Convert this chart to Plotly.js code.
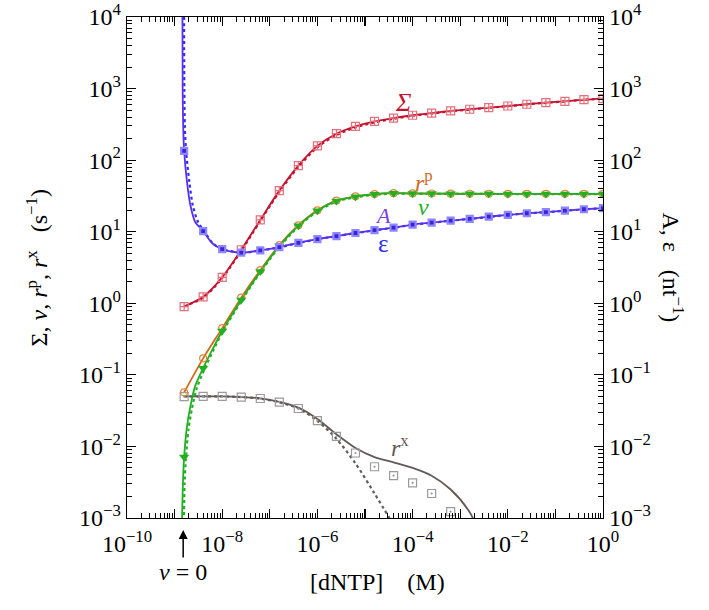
<!DOCTYPE html>
<html>
<head>
<meta charset="utf-8">
<script src="https://cdn.plot.ly/plotly-3.0.1.min.js"></script>
<style>
  html, body {margin: 0; padding: 0; background: #fff;}
  #plot {width: 709px; height: 610px;}
</style>
</head>
<body>
<div id="plot"></div>
<script>
// dNTP concentration (M) where the simulation points sit
var conc = [1.585e-9, 3.981e-9, 1e-8, 2.512e-8, 6.310e-8, 1.585e-7, 3.981e-7, 1e-6, 2.512e-6, 6.310e-6,
    1.585e-5, 3.981e-5, 1e-4, 2.512e-4, 6.310e-4, 1.585e-3, 3.981e-3, 1e-2, 2.512e-2, 6.310e-2, 0.1585, 0.3981, 1]

// simulation points
var sigmaPts = [0.9, 1.23, 2.3, 5.6, 14.6, 37.5, 84, 158, 234, 296, 348, 386, 424, 453, 487, 514, 541, 571, 604, 636, 664, 700, 725]
var rpPts = [0.057, 0.17, 0.45, 1.2, 2.9, 6.5, 12.3, 19.9, 27.2, 31.2, 33.6, 34.6, 34.3, 34.2, 34.0, 33.9, 33.9, 33.8, 33.8, 33.8, 33.8, 33.8, 33.8]
var vPts = [0.0071, 0.124, 0.41, 1.11, 2.77, 6.3, 12.1, 19.7, 26.9, 30.9, 33.4, 34.5, 34.2, 34.1, 33.9, 33.8, 33.8, 33.7, 33.7, 33.7, 33.7, 33.7, 33.7]
var aPts = [135, 10.2, 5.7, 5.1, 5.5, 6.1, 7.0, 7.9, 8.7, 9.6, 10.5, 11.4, 12.6, 13.4, 14.3, 15.1, 16.2, 17.2, 18.1, 18.8, 19.7, 20.6, 21.3]
var rxPts = [0.0498, 0.05, 0.05, 0.0489, 0.0467, 0.0416, 0.0339, 0.023, 0.0138, 0.0081, 0.0052, 0.0039, 0.0031, 0.0022, 0.00123]

// theory curves
var sigmaLine = [0.9, 1.23, 2.3, 5.6, 14.6, 37.5, 84, 158, 234, 296, 348, 386, 424, 453, 487, 514, 541, 571, 604, 636, 664, 700, 725]
var sigmaDot = [0.9, 1.2, 2.25, 5.4, 14.1, 36, 80, 151, 224, 287, 337, 378, 418, 447, 482, 510, 538, 568, 601, 633, 662, 698, 722]
var rpLine = [0.057, 0.17, 0.45, 1.2, 2.9, 6.5, 12.3, 19.9, 27.2, 31.2, 33.6, 34.6, 34.3, 34.2, 34.0, 33.9, 33.9, 33.8, 33.8, 33.8, 33.8, 33.8, 33.8]

var vLineX = [1.43e-9, 1.50e-9, 1.585e-9, 1.82e-9, 2.14e-9, 2.69e-9, 3.981e-9, 6.17e-9, 1e-8, 2.512e-8, 6.310e-8, 1.585e-7,
    3.981e-7, 1e-6, 2.512e-6, 6.310e-6, 1.585e-5, 3.981e-5, 1e-4, 2.512e-4, 6.310e-4, 1.585e-3, 3.981e-3, 1e-2, 2.512e-2, 6.310e-2, 0.1585, 0.3981, 1]
var vLine = [0.0009, 0.0032, 0.0071, 0.019, 0.036, 0.069, 0.124, 0.223, 0.41, 1.11, 2.77, 6.3,
    12.1, 19.7, 26.9, 30.9, 33.4, 34.5, 34.2, 34.1, 33.9, 33.8, 33.8, 33.7, 33.7, 33.7, 33.7, 33.7, 33.7]
var vDotX = [1.575e-9, 1.62e-9, 1.72e-9, 1.95e-9, 2.3e-9, 2.9e-9, 4.2e-9, 6.4e-9, 1e-8, 2.512e-8, 6.310e-8, 1.585e-7,
    3.981e-7, 1e-6, 2.512e-6, 6.310e-6, 1.585e-5, 3.981e-5, 1e-4, 2.512e-4, 6.310e-4, 1.585e-3, 3.981e-3, 1e-2, 2.512e-2, 6.310e-2, 0.1585, 0.3981, 1]
var vDot = [0.0009, 0.003, 0.0065, 0.017, 0.033, 0.064, 0.118, 0.215, 0.39, 1.07, 2.7, 6.1,
    11.8, 19.2, 26.3, 30.3, 32.8, 33.9, 33.9, 33.8, 33.7, 33.7, 33.7, 33.6, 33.6, 33.6, 33.6, 33.6, 33.6]

var aLineX = [1.462e-9, 1.476e-9, 1.515e-9, 1.585e-9, 1.82e-9, 2.138e-9, 2.692e-9, 3.981e-9, 6.166e-9, 1e-8, 2.512e-8, 6.310e-8,
    1.585e-7, 3.981e-7, 1e-6, 2.512e-6, 6.310e-6, 1.585e-5, 3.981e-5, 1e-4, 2.512e-4, 6.310e-4, 1.585e-3, 3.981e-3, 1e-2, 2.512e-2, 6.310e-2, 0.1585, 0.3981, 1]
var aLine = [10000, 1000, 300, 135, 50, 23.7, 13.8, 10.2, 6.9, 5.7, 5.1, 5.5,
    6.1, 7.0, 7.9, 8.7, 9.6, 10.5, 11.4, 12.6, 13.4, 14.3, 15.1, 16.2, 17.2, 18.1, 18.8, 19.7, 20.6, 21.3]
var epsX = [1.58e-9, 1.60e-9, 1.64e-9, 1.74e-9, 2.04e-9, 2.4e-9, 3.09e-9, 4.4e-9, 6.5e-9, 1e-8, 2.512e-8, 6.310e-8,
    1.585e-7, 3.981e-7, 1e-6, 2.512e-6, 6.310e-6, 1.585e-5, 3.981e-5, 1e-4, 2.512e-4, 6.310e-4, 1.585e-3, 3.981e-3, 1e-2, 2.512e-2, 6.310e-2, 0.1585, 0.3981, 1]
var epsDot = [10000, 1000, 300, 135, 50, 23.7, 13.8, 9.6, 6.8, 5.75, 5.1, 5.45,
    6.05, 6.95, 7.85, 8.65, 9.55, 10.45, 11.35, 12.5, 13.35, 14.25, 15.05, 16.1, 17.1, 18.0, 18.7, 19.6, 20.5, 21.2]

var rxLine = [0.05, 0.05, 0.05, 0.049, 0.047, 0.042, 0.0348, 0.0242, 0.0148, 0.0095, 0.0071, 0.0060, 0.0050, 0.0039, 0.0025, 0.0012, 0.0003]
var rxDot = [0.05, 0.05, 0.05, 0.0489, 0.0466, 0.0414, 0.0338, 0.0228, 0.0128, 0.0058, 0.0022, 0.0008]

// axis ticks
var xTicks = [1e-10, 1e-9, 1e-8, 1e-7, 1e-6, 1e-5, 1e-4, 1e-3, 1e-2, 1e-1, 1]
var xTickText = ["10<sup>\u221210</sup>", " ", "10<sup>\u22128</sup>", " ", "10<sup>\u22126</sup>", " ", "10<sup>\u22124</sup>", " ", "10<sup>\u22122</sup>", " ", "10<sup>0</sup>"]
var yTicks = [1e-3, 1e-2, 1e-1, 1, 10, 100, 1000, 10000]
var yTickText = ["10<sup>\u22123</sup>", "10<sup>\u22122</sup>", "10<sup>\u22121</sup>", "10<sup>0</sup>", "10<sup>1</sup>", "10<sup>2</sup>", "10<sup>3</sup>", "10<sup>4</sup>"]

var red = "#c4122f", orange = "#d2691e", green = "#22b022", purple = "#5a2ff0", blue = "#2f2ff0", gray = "#625a5a"

function minorTicks(lo, hi){
    let out = []
    for (let e = lo; e < hi; e++){
        for (let m = 2; m < 10; m++){
            out.push(m * Math.pow(10, e))
        }
    }
    return out
}

function line(x, y, color, dash, axis){
    return {x: x, y: y, mode: "lines", yaxis: axis || "y",
        line: {color: color, width: dash ? 2.2 : 1.8, dash: dash || "solid", shape: "spline", smoothing: 0.8},
        hoverinfo: "skip"}
}

function points(x, y, symbol, color, size, extra, axis){
    let m = {symbol: symbol, color: color, size: size, line: {color: color, width: 1.2}}
    if (extra) m.line = extra
    return {x: x.slice(0, y.length), y: y, mode: "markers", yaxis: axis || "y", marker: m}
}

var data = [
    line(conc, sigmaDot, red, "dot"),
    line(conc, sigmaLine, red),
    line(conc.slice(0, rxDot.length), rxDot, gray, "dot"),
    line(conc.slice(0, rxLine.length), rxLine, gray),
    line(conc, rpLine, orange),
    line(vDotX, vDot, green, "dot"),
    line(vLineX, vLine, green),
    line(epsX, epsDot, blue, "dot", "y2"),
    line(aLineX, aLine, purple, null, "y2"),
    points(conc, sigmaPts, "square-cross-open", "#e4707c", 8),
    points(conc, rxPts, "square-open-dot", "#9a9a9a", 8),
    points(conc, rpPts, "circle-open", "#dc8a3c", 7),
    points(conc, vPts, "triangle-down", green, 9, {width: 0}),
    points(conc, aPts, "square", "#4020d8", 6, {color: "#8c88ff", width: 2.2}, "y2")
]

var serif = "Times New Roman, Liberation Serif, serif"
var axisFont = {family: serif, size: 24, color: "#000"}

function yAxis(side){
    let ax = {
        type: "log", range: [-3, 4], side: side,
        tickmode: "array", tickvals: yTicks, ticktext: yTickText,
        ticks: "inside", ticklen: 9, tickwidth: 1.2, tickcolor: "#000",
        minor: {tickmode: "array", tickvals: minorTicks(-3, 4), ticks: "inside", ticklen: 5, tickwidth: 1, tickcolor: "#000"},
        showline: true, linecolor: "#000", linewidth: 1.3,
        showgrid: false, zeroline: false, tickfont: axisFont
    }
    if (side === "right"){
        ax.overlaying = "y"
    }
    return ax
}

var layout = {
    width: 709, height: 610,
    margin: {l: 127, r: 106, t: 17, b: 92},
    paper_bgcolor: "#fff", plot_bgcolor: "#fff",
    showlegend: false,
    font: axisFont,
    xaxis: {
        type: "log", range: [-10, 0],
        tickmode: "array", tickvals: xTicks, ticktext: xTickText,
        ticks: "inside", ticklen: 9, tickwidth: 1.2, tickcolor: "#000",
        minor: {tickmode: "array", tickvals: minorTicks(-10, 0), ticks: "inside", ticklen: 5, tickwidth: 1, tickcolor: "#000"},
        showline: true, linecolor: "#000", linewidth: 1.3, mirror: "ticks",
        showgrid: false, zeroline: false, tickfont: axisFont, ticklabelstandoff: 4
    },
    yaxis: yAxis("left"),
    yaxis2: yAxis("right"),
    annotations: [
        {xref: "paper", yref: "paper", x: -0.225, y: 0.5, textangle: -90, showarrow: false,
            text: "\u03a3, <i>v</i>, <i>r</i><sup>p</sup>, <i>r</i><sup>x</sup>\u00a0\u00a0\u00a0(s<sup>\u22121</sup>)"},
        {xref: "paper", yref: "paper", x: 1.183, y: 0.5, textangle: 90, showarrow: false,
            text: "A, \u03b5\u00a0\u00a0\u00a0(nt<sup>\u22121</sup>)"},
        {xref: "paper", yref: "paper", x: 0.527, y: -0.158, showarrow: false,
            text: "[dNTP]\u00a0\u00a0\u00a0\u00a0(M)"},
        {xref: "x", yref: "paper", x: -8.82, y: -0.024, ax: 0, ay: 42, showarrow: true,
            arrowhead: 2, arrowsize: 1.2, arrowwidth: 1.5, arrowcolor: "#000",
            text: "<i>v</i> = 0"},
        {xref: "x", yref: "y", x: -4.2, y: 2.81, showarrow: false, text: "<i>\u03a3</i>", font: {color: red, size: 26}},
        {xref: "x", yref: "y", x: -3.76, y: 1.71, showarrow: false, text: "<i>r</i><sup>p</sup>", font: {color: orange, size: 24}},
        {xref: "x", yref: "y", x: -3.78, y: 1.35, showarrow: false, text: "<i>v</i>", font: {color: green, size: 24}},
        {xref: "x", yref: "y", x: -4.62, y: 1.23, showarrow: false, text: "<i>A</i>", font: {color: "#7a3ce6", size: 22}},
        {xref: "x", yref: "y", x: -4.62, y: 0.84, showarrow: false, text: "\u03b5", font: {color: blue, size: 25}},
        {xref: "x", yref: "y", x: -4.27, y: -1.99, showarrow: false, text: "<i>r</i><sup>x</sup>", font: {color: gray, size: 24}}
    ]
}

Plotly.newPlot("plot", data, layout, {staticPlot: true})
</script>
</body>
</html>
